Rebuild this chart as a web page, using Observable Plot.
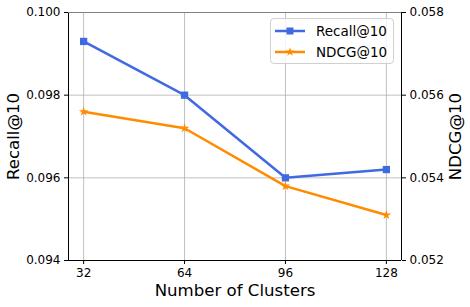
<!DOCTYPE html>
<html><head><meta charset="utf-8">
<script src="https://cdn.jsdelivr.net/npm/d3@7"></script>
<script src="https://cdn.jsdelivr.net/npm/@observablehq/plot@0.6"></script>
<style>
body{margin:0;background:#fff;font-family:"DejaVu Sans",sans-serif}
#chart{position:relative;width:470px;height:307px}
.legend{position:absolute;left:270px;top:18px;width:124px;height:46px;box-sizing:border-box;border:1px solid #d0d0d0;border-radius:4px;background:rgba(255,255,255,0.8);font-size:13.5px;color:#000}
.legend .row{position:absolute;left:4px;display:flex;align-items:center;height:20px}
.legend svg{margin-right:11px}
</style></head><body><div id="chart"></div>
<script>
const clusters = [32, 64, 96, 128];
const recall = [0.0993, 0.0980, 0.0960, 0.0962];
const ndcg = [0.0556, 0.0552, 0.0538, 0.0531];
const recallTicks = [0.094, 0.096, 0.098, 0.100];
const ndcgTicks = [0.052, 0.054, 0.056, 0.058];
const seriesNames = ["Recall@10", "NDCG@10"];
const xLabel = "Number of Clusters";
const colors = ["#4169E1", "#FF8C00"];

const rSpan = recallTicks[3] - recallTicks[0];
const nSpan = ndcgTicks[3] - ndcgTicks[0];
const toR = n => recallTicks[0] + (n - ndcgTicks[0]) * rSpan / nSpan;
const toN = r => ndcgTicks[0] + (r - recallTicks[0]) * nSpan / rSpan;

const data = clusters.map((c, i) => ({c, recall: recall[i], ndcg: toR(ndcg[i])}));
const pad = (clusters[3] - clusters[0]) * 0.05;
const xDomain = [clusters[0] - pad, clusters[3] + pad];
const gridStyle = {stroke: "#b0b0b0", strokeOpacity: 1, strokeWidth: 0.8};

const plot = Plot.plot({
  width: 470, height: 307,
  marginLeft: 68, marginRight: 69, marginTop: 12, marginBottom: 47,
  style: {fontFamily: "DejaVu Sans", fontSize: "12px", background: "white", color: "black", overflow: "visible"},
  x: {type: "linear", domain: xDomain},
  y: {type: "linear", domain: [recallTicks[0], recallTicks[3]]},
  marks: [
    Plot.gridX(clusters, gridStyle),
    Plot.gridY(recallTicks, gridStyle),
    Plot.ruleX(xDomain, {stroke: "black", strokeWidth: 1}),
    Plot.ruleY([recallTicks[0]], {stroke: "black", strokeWidth: 1}),
    Plot.ruleY([recallTicks[3]], {stroke: "#808080", strokeWidth: 1.2}),
    Plot.axisX(clusters, {tickSize: 4, tickPadding: 4, fontSize: 12, label: null, tickFormat: d => String(d)}),
    Plot.axisY(recallTicks, {anchor: "left", tickSize: 4, tickPadding: 4, fontSize: 12, label: null, tickFormat: d => d.toFixed(3)}),
    Plot.axisY(ndcgTicks.map(toR), {anchor: "right", tickSize: 4, tickPadding: 4, fontSize: 12, label: null, tickFormat: d => toN(d).toFixed(3)}),
    Plot.text([xLabel], {frameAnchor: "bottom", dy: 30, fontSize: 16.6, lineAnchor: "middle", textAnchor: "middle"}),
    Plot.text([seriesNames[0]], {frameAnchor: "left", dx: -55, rotate: -90, fontSize: 16.6, lineAnchor: "middle", textAnchor: "middle"}),
    Plot.text([seriesNames[1]], {frameAnchor: "right", dx: 54, rotate: -90, fontSize: 16.6, lineAnchor: "middle", textAnchor: "middle"}),
    Plot.line(data, {x: "c", y: "recall", stroke: colors[0], strokeWidth: 2.5}),
    Plot.dot(data, {x: "c", y: "recall", symbol: "square", fill: colors[0], r: 4.1}),
    Plot.line(data, {x: "c", y: "ndcg", stroke: colors[1], strokeWidth: 2.5}),
    Plot.dot(data, {x: "c", y: "ndcg", symbol: "star", fill: colors[1], r: 3})
  ]
});
const chart = document.getElementById("chart");
chart.appendChild(plot);

const legend = document.createElement("div");
legend.className = "legend";
const shapes = [
  '<rect x="11.5" y="6.5" width="7" height="7" fill="' + colors[0] + '"/>',
  '<path transform="translate(15,10)" d="' + d3.symbol(d3.symbolStar, 25)() + '" fill="' + colors[1] + '"/>'
];
seriesNames.forEach((name, i) => {
  const row = document.createElement("div");
  row.className = "row";
  row.style.top = (2 + i * 20.5) + "px";
  row.innerHTML = '<svg width="30" height="20"><line x1="0" x2="30" y1="10" y2="10" stroke="' + colors[i] + '" stroke-width="2.5"/>' + shapes[i] + '</svg><span>' + name + '</span>';
  legend.appendChild(row);
});
chart.appendChild(legend);
</script></body></html>
